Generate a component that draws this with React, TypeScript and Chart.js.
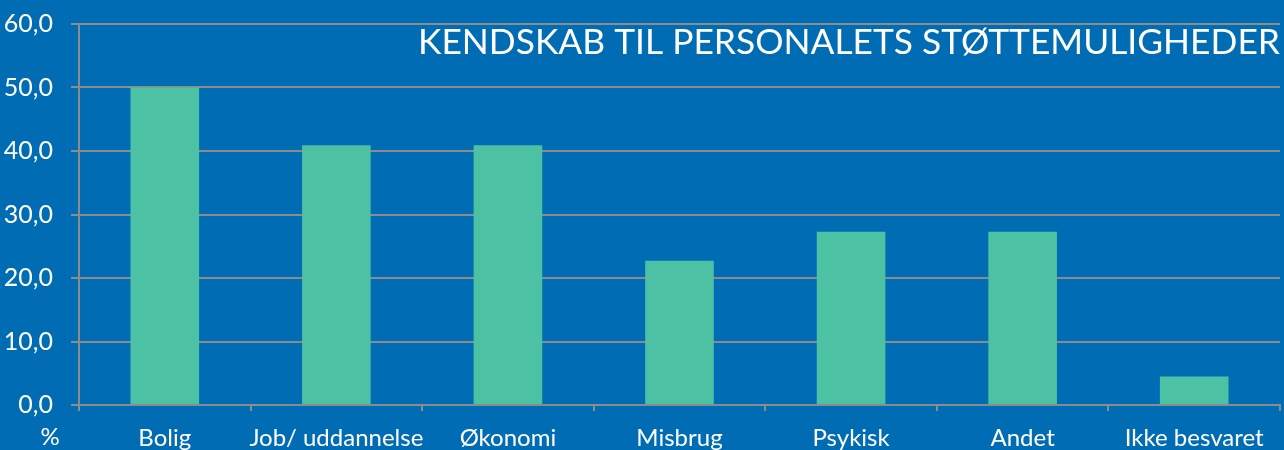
import React, { useEffect, useRef } from "react";
import { Chart, registerables } from "chart.js";

Chart.register(...registerables);

const categories = ["Bolig", "Job/ uddannelse", "Økonomi", "Misbrug", "Psykisk", "Andet", "Ikke besvaret"];
const values = [50.0, 40.9, 40.9, 22.7, 27.3, 27.3, 4.5];
const yTicks = [0, 10, 20, 30, 40, 50, 60];
const titleText = "KENDSKAB TIL PERSONALETS STØTTEMULIGHEDER";
const unitLabel = "%";

const BG = "#006cb4";
const BAR = "#4cc1a3";
const GRID = "#8c8c8c";
const FONT = "Lato, 'Open Sans', sans-serif";

const overlayPlugin = {
  id: "overlay",
  afterDraw(chart: any) {
    const { ctx, chartArea } = chart;
    ctx.save();
    ctx.fillStyle = "#ffffff";
    ctx.font = `34px ${FONT}`;
    ctx.textAlign = "right";
    ctx.textBaseline = "alphabetic";
    const targetW = 862;
    const w = ctx.measureText(titleText).width;
    const sx = targetW / w;
    ctx.translate(chartArea.right, 0);
    ctx.scale(sx, 1);
    ctx.fillText(titleText, 0, 54);
    ctx.restore();

    ctx.save();
    ctx.fillStyle = "#ffffff";
    ctx.font = `24px ${FONT}`;
    ctx.textAlign = "center";
    ctx.textBaseline = "middle";
    ctx.fillText(unitLabel, 50, 437);
    ctx.restore();
  },
};

export default function App() {
  const ref = useRef<HTMLCanvasElement>(null);
  useEffect(() => {
    document.body.style.margin = "0";
    document.body.style.background = BG;
    const chart = new Chart(ref.current!, {
      type: "bar",
      data: {
        labels: categories,
        datasets: [
          {
            data: values,
            backgroundColor: BAR,
            borderWidth: 0,
            categoryPercentage: 0.8,
            barPercentage: 0.5,
          },
        ],
      },
      options: {
        animation: false,
        responsive: false,
        maintainAspectRatio: false,
        layout: { padding: { top: 24, right: 4, left: 0, bottom: 0 } },
        plugins: {
          legend: { display: false },
          tooltip: { enabled: false },
          title: { display: false },
        },
        scales: {
          x: {
            grid: {
              display: true,
              offset: true,
              drawOnChartArea: false,
              drawTicks: true,
              tickLength: 6,
              color: GRID,
              lineWidth: 2,
            },
            border: { display: true, color: GRID, width: 2 },
            ticks: {
              color: "#ffffff",
              font: { family: FONT, size: 24 },
              padding: 13,
              maxRotation: 0,
              autoSkip: false,
            },
            afterFit(scale: any) {
              scale.height = 45;
              scale.paddingLeft = 0;
              scale.paddingRight = 0;
            },
          },
          y: {
            min: 0,
            max: 60,
            afterBuildTicks(scale: any) {
              scale.ticks = yTicks.map((v) => ({ value: v }));
            },
            grid: {
              color: GRID,
              lineWidth: 2,
              drawTicks: true,
              tickLength: 8,
            },
            border: { display: true, color: GRID, width: 2 },
            ticks: {
              color: "#ffffff",
              font: { family: FONT, size: 25 },
              padding: 18,
              callback: (v: any) => Number(v).toFixed(1).replace(".", ","),
            },
            afterFit(scale: any) {
              scale.width = 79;
              scale.paddingTop = 0;
              scale.paddingBottom = 0;
            },
          },
        },
      },
      plugins: [overlayPlugin],
    });
    return () => chart.destroy();
  }, []);
  return (
    <div style={{ position: "fixed", left: 0, top: 0, width: 1284, height: 450, background: BG }}>
      <canvas ref={ref} width={1284} height={450} style={{ display: "block", width: 1284, height: 450 }} />
    </div>
  );
}
